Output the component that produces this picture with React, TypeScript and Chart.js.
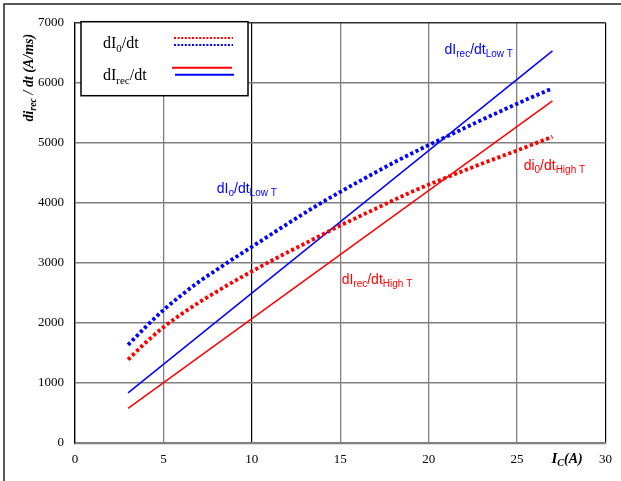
import React, { useEffect, useRef } from 'react';
import { Chart, registerables } from 'chart.js';

Chart.register(...registerables);

// ---- data ----
const currentA = [3, 4, 5, 6, 7, 8, 9, 10, 11, 12, 13, 14, 15, 16, 17, 18, 19, 20, 21, 22, 23, 24, 25, 26, 27];
const dI0LowT = [1630, 1930, 2210, 2455, 2680, 2880, 3075, 3265, 3455, 3645, 3830, 4010, 4180, 4345, 4505, 4665, 4815, 4960, 5100, 5240, 5380, 5515, 5650, 5780, 5905];
const dI0HighT = [1385, 1670, 1925, 2140, 2335, 2515, 2690, 2855, 3015, 3170, 3320, 3470, 3620, 3760, 3900, 4040, 4175, 4300, 4420, 4535, 4650, 4760, 4870, 4985, 5100];
const recCurrentA = [3, 27];
const dIrecLowT = [830, 6530];
const dIrecHighT = [573, 5697];
const xTicks = [0, 5, 10, 15, 20, 25, 30];
const yTicks = [0, 1000, 2000, 3000, 4000, 5000, 6000, 7000];

const BLUE = '#0000ff';
const RED = '#ff0000';
const SERIF = '"Liberation Serif", "Times New Roman", serif';
const SANS = '"Liberation Sans", Arial, sans-serif';

type Seg = { t: string; font: string; dy?: number };

const annotations: { segs: [string, boolean][]; x: number; y: number; color: string }[] = [
  { segs: [['dI', false], ['rec', true], ['/dt', false], ['Low T', true]], x: 20.9, y: 6478, color: BLUE },
  { segs: [['dI', false], ['o', true], ['/dt', false], ['Low T', true]], x: 8.02, y: 4162, color: BLUE },
  { segs: [['dI', false], ['rec', true], ['/dt', false], ['High T', true]], x: 15.08, y: 2645, color: RED },
  { segs: [['di', false], ['0', true], ['/dt', false], ['High T', true]], x: 25.37, y: 4545, color: RED },
];

function drawRich(ctx: CanvasRenderingContext2D, segs: Seg[], x: number, y: number, center = false) {
  let w = 0;
  segs.forEach((s) => {
    ctx.font = s.font;
    w += ctx.measureText(s.t).width;
  });
  let cx = center ? x - w / 2 : x;
  ctx.textAlign = 'left';
  ctx.textBaseline = 'alphabetic';
  segs.forEach((s) => {
    ctx.font = s.font;
    ctx.fillText(s.t, cx, y + (s.dy || 0));
    cx += ctx.measureText(s.t).width;
  });
}

const decorPlugin = {
  id: 'decor',
  beforeDraw(chart: any) {
    const ctx: CanvasRenderingContext2D = chart.ctx;
    ctx.save();
    ctx.fillStyle = '#fff';
    ctx.fillRect(0, 0, chart.width, chart.height);
    // outer frame (top & left visible)
    ctx.strokeStyle = '#222';
    ctx.lineWidth = 1.5;
    ctx.beginPath();
    ctx.moveTo(4, chart.height);
    ctx.lineTo(4, 4);
    ctx.lineTo(chart.width, 4);
    ctx.stroke();
    ctx.restore();
  },
  afterDatasetsDraw(chart: any) {
    const ctx: CanvasRenderingContext2D = chart.ctx;
    const { left, top, right, bottom } = chart.chartArea;
    const xs = chart.scales.x;
    const ys = chart.scales.y;
    ctx.save();

    // annotations
    annotations.forEach((a) => {
      ctx.fillStyle = a.color;
      const segs: Seg[] = a.segs.map(([t, sub]) => ({
        t,
        font: sub ? `10px ${SANS}` : `14px ${SANS}`,
        dy: sub ? 3 : 0,
      }));
      drawRich(ctx, segs, xs.getPixelForValue(a.x), ys.getPixelForValue(a.y));
    });

    // legend box
    const bx = left + 6;
    const by = top - 1;
    ctx.fillStyle = '#fff';
    ctx.fillRect(bx, by, 167, 74);
    ctx.strokeStyle = '#000';
    ctx.lineWidth = 1.5;
    ctx.strokeRect(bx, by, 167, 74);
    ctx.fillStyle = '#000';
    drawRich(
      ctx,
      [
        { t: 'dI', font: `16px ${SERIF}` },
        { t: '0', font: `11px ${SERIF}`, dy: 4 },
        { t: '/dt', font: `16px ${SERIF}` },
      ],
      bx + 22,
      by + 26
    );
    drawRich(
      ctx,
      [
        { t: 'dI', font: `16px ${SERIF}` },
        { t: 'rec', font: `11px ${SERIF}`, dy: 4 },
        { t: '/dt', font: `16px ${SERIF}` },
      ],
      bx + 22,
      by + 58
    );
    const seg = (color: string, x0: number, x1: number, y: number, dash: number[], w: number) => {
      ctx.strokeStyle = color;
      ctx.lineWidth = w;
      ctx.setLineDash(dash);
      ctx.beginPath();
      ctx.moveTo(x0, y);
      ctx.lineTo(x1, y);
      ctx.stroke();
    };
    seg(RED, bx + 93, bx + 152, by + 16.3, [2, 1.6], 2);
    seg(BLUE, bx + 93, bx + 152, by + 23.3, [2, 1.6], 2);
    seg(RED, bx + 91, bx + 151, by + 46, [], 2);
    seg(BLUE, bx + 94, bx + 153, by + 53, [], 2);
    ctx.setLineDash([]);

    // y axis title (rotated)
    ctx.fillStyle = '#000';
    ctx.save();
    ctx.translate(33, top + 55);
    ctx.rotate(-Math.PI / 2);
    drawRich(
      ctx,
      [
        { t: 'di', font: `bold italic 14px ${SERIF}` },
        { t: 'rec', font: `bold italic 10px ${SERIF}`, dy: 3 },
        { t: ' / dt (A/ms)', font: `bold italic 14px ${SERIF}` },
      ],
      0,
      0,
      true
    );
    ctx.restore();

    // x axis title
    drawRich(
      ctx,
      [
        { t: 'I', font: `bold italic 15px ${SERIF}` },
        { t: 'C', font: `bold italic 10px ${SERIF}`, dy: 3 },
        { t: '(A)', font: `bold italic 14px ${SERIF}` },
      ],
      right - 54,
      bottom + 20
    );
    ctx.restore();
  },
};

export default function App() {
  const ref = useRef<HTMLCanvasElement | null>(null);
  useEffect(() => {
    if (!ref.current) return;
    const toPts = (xs: number[], ys: number[]) => xs.map((x, i) => ({ x, y: ys[i] }));
    const dotted = {
      borderWidth: 3.8,
      borderDash: [3.2, 2.6],
      borderCapStyle: 'butt' as const,
      pointRadius: 0,
      tension: 0.4,
      cubicInterpolationMode: 'monotone' as const,
      fill: false,
    };
    const chart = new Chart(ref.current, {
      type: 'scatter',
      data: {
        datasets: [
          { label: 'dI0/dt Low T', data: toPts(currentA, dI0LowT), borderColor: BLUE, backgroundColor: BLUE, showLine: true, ...dotted },
          { label: 'dI0/dt High T', data: toPts(currentA, dI0HighT), borderColor: RED, backgroundColor: RED, showLine: true, ...dotted },
          { label: 'dIrec/dt Low T', data: toPts(recCurrentA, dIrecLowT), borderColor: BLUE, backgroundColor: BLUE, showLine: true, borderWidth: 1.5, pointRadius: 0 },
          { label: 'dIrec/dt High T', data: toPts(recCurrentA, dIrecHighT), borderColor: RED, backgroundColor: RED, showLine: true, borderWidth: 1.5, pointRadius: 0 },
        ],
      },
      options: {
        animation: false,
        responsive: false,
        events: [],
        layout: { padding: { top: 22.7, right: 15, left: 0, bottom: 0 } },
        plugins: { legend: { display: false }, tooltip: { enabled: false }, title: { display: false } },
        scales: {
          x: {
            type: 'linear',
            min: 0,
            max: 30,
            afterBuildTicks: (s: any) => {
              s.ticks = xTicks.map((v) => ({ value: v }));
            },
            afterFit: (s: any) => {
              s.height = 38.3;
            },
            grid: {
              drawTicks: false,
              color: (c: any) => (c.tick && (c.tick.value === 10 || c.tick.value === 30) ? '#000' : '#808080'),
              lineWidth: (c: any) => (c.tick && (c.tick.value === 10 || c.tick.value === 30) ? 1.2 : 1.3),
            },
            border: { color: '#808080', width: 2.2 },
            ticks: { color: '#000', font: { family: SERIF, size: 13 }, padding: 9, maxRotation: 0, callback: (v: any) => String(v) },
          },
          y: {
            type: 'linear',
            min: 0,
            max: 7000,
            afterBuildTicks: (s: any) => {
              s.ticks = yTicks.map((v) => ({ value: v }));
            },
            afterFit: (s: any) => {
              s.width = 75;
            },
            grid: {
              drawTicks: false,
              color: (c: any) => (c.tick && c.tick.value === 7000 ? '#333' : '#808080'),
              lineWidth: 1.5,
            },
            border: { color: '#000', width: 1.3 },
            ticks: { color: '#000', font: { family: SERIF, size: 13 }, padding: 11, callback: (v: any) => String(v) },
          },
        },
      },
      plugins: [decorPlugin],
    });
    return () => chart.destroy();
  }, []);
  return (
    <div style={{ position: 'absolute', left: 0, top: 0, width: 621, height: 481 }}>
      <canvas ref={ref} width={621} height={481} style={{ width: 621, height: 481, display: 'block' }} />
    </div>
  );
}
